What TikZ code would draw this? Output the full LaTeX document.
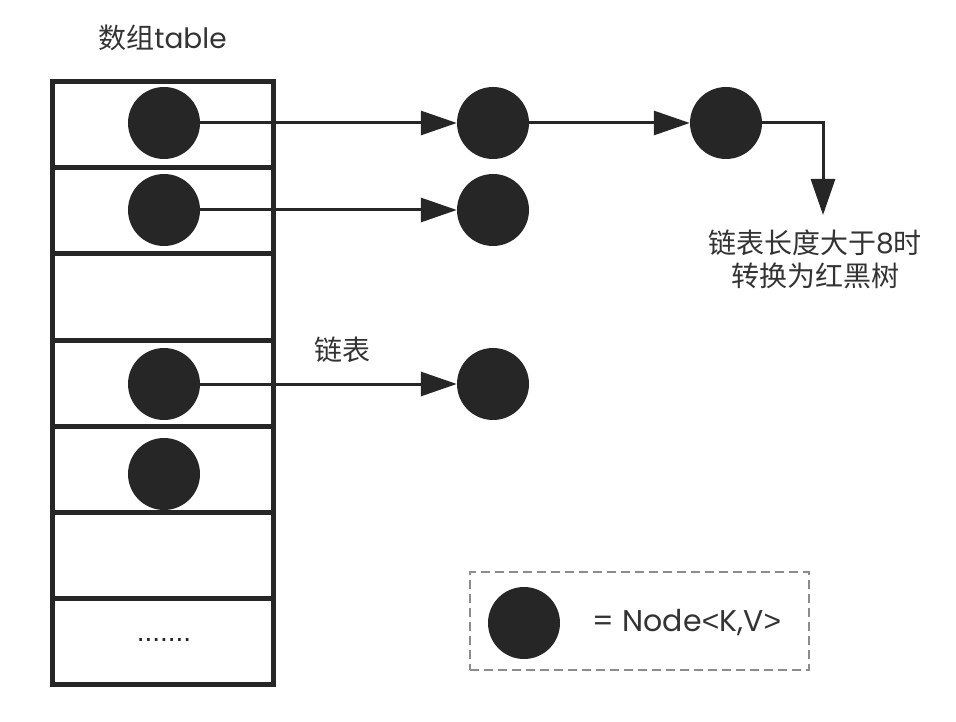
\documentclass[tikz,border=0pt]{standalone}
\usepackage{fontspec}
\setmainfont{Poppins}
\newfontfamily\cjk{Noto Sans CJK SC}
\newfontfamily\plainfont{Liberation Sans}
\usetikzlibrary{positioning,arrows.meta}
\definecolor{ink}{HTML}{262626}
\definecolor{txt}{HTML}{333333}
\definecolor{dashgray}{HTML}{8C8C8C}

\begin{document}
\begin{tikzpicture}[x=1pt,y=-1pt,
  cell/.style={draw=ink, line width=5pt, minimum width=221pt,
    minimum height=86pt, inner sep=0pt},
  entry/.style={circle, fill=ink, minimum size=72pt, inner sep=0pt},
  link/.style={draw=ink, line width=3pt, -{Triangle[length=36pt,width=24pt]}},
  label/.style={text=txt, font=\fontsize{28}{33}\selectfont, inner sep=0pt}]
  \useasboundingbox (0,0) rectangle (956,722);

  % table cells
  \foreach \i in {1,...,7}
    \node[cell] (row\i) at (162.5,{82+86*(\i-0.5)}) {};
  \node[label, above=28pt of row1.north] (title) {\cjk 数组\normalfont table};
  \node[label, text=ink, font=\plainfont\fontsize{28}{33}\selectfont] (more) at (164,640) {.......};

  % entries in the table
  \node[entry] (t1) at (164,123) {};
  \node[entry] (t2) at (164,210) {};
  \node[entry] (t4) at (164,384) {};
  \node[entry] (t5) at (164,474) {};

  % linked lists
  \node[entry] (a1) at (493,123) {};
  \node[entry] (a2) at (726,123) {};
  \node[entry] (b1) at (493,210) {};
  \node[entry] (c1) at (493,384) {};
  \coordinate (turn) at (823,215);

  \draw[link] (t1) -- (a1);
  \draw[link] (a1) -- (a2);
  \draw[link] (a2) -- (a2 -| turn) -- (turn);
  \draw[link] (t2) -- (b1);
  \draw[link] (t4) -- (c1);

  \node[label, align=center] (note) at (815,259) {\cjk 链表长度大于\normalfont 8\cjk 时\\ \cjk 转换为红黑树};
  \node[label] (chain) at (342,350) {\cjk 链表};

  % legend
  \node[draw=dashgray, line width=2pt, dash pattern=on 9pt off 5pt,
    minimum width=339pt, minimum height=98pt] (legend) at (639.5,621) {};
  \node[entry] (key) at (524,623) {};
  \node[label, font=\fontsize{30}{36}\selectfont] (keytext) at (687,623) {= Node{\plainfont<}K,V{\plainfont>}};
\end{tikzpicture}
\end{document}
